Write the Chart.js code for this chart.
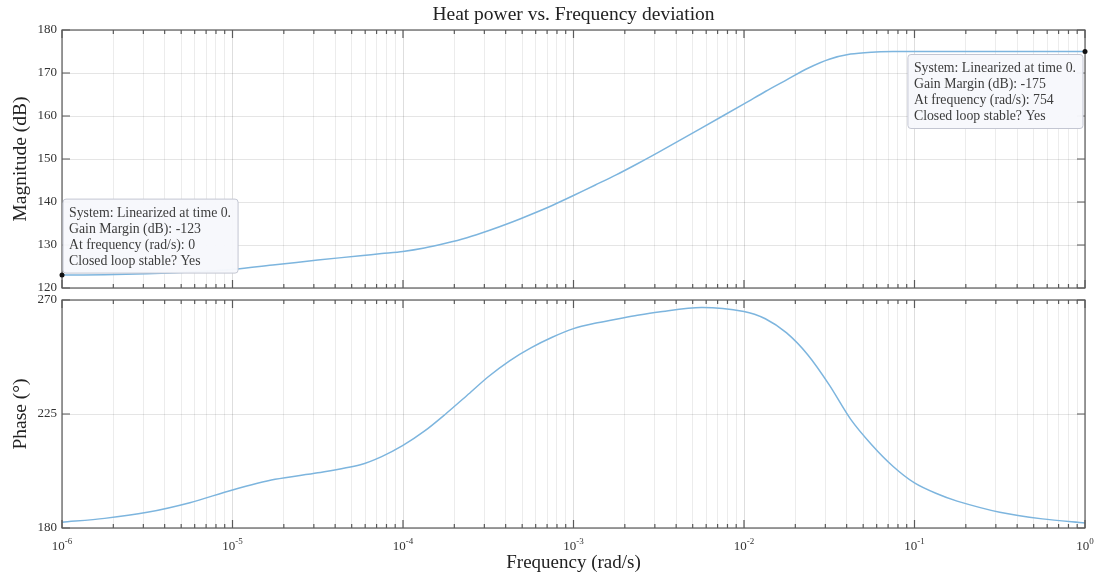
<!DOCTYPE html>
<html>
<head>
<meta charset="utf-8">
<title>Heat power vs. Frequency deviation</title>
<script src="https://cdn.jsdelivr.net/npm/chart.js@4.4.0/dist/chart.umd.min.js"></script>
<style>
  html, body { margin: 0; padding: 0; background: #fff; }
  #wrap { position: relative; width: 1105px; height: 580px; }
  .painel { position: absolute; left: 0; width: 1105px; }
  #painelMag { top: 0; height: 300px; }
  #painelFase { top: 290px; height: 290px; }
</style>
</head>
<body>
<div id="wrap">
  <div class="painel" id="painelMag"><canvas id="graficoMag"></canvas></div>
  <div class="painel" id="painelFase"><canvas id="graficoFase"></canvas></div>
</div>
<script>
// Frequências (rad/s) da resposta em frequência
const frequencias = [
  1e-6, 1.778e-6, 3.162e-6, 5.623e-6,
  1e-5, 1.778e-5, 3.162e-5, 5.623e-5, 7.499e-5,
  1e-4, 1.334e-4, 1.778e-4, 2.371e-4, 3.162e-4, 4.217e-4, 5.623e-4, 7.499e-4,
  1e-3, 1.334e-3, 1.778e-3, 2.371e-3, 3.162e-3, 5.623e-3,
  1e-2, 1.334e-2, 1.778e-2, 2.371e-2, 3.162e-2, 4.217e-2, 5.623e-2, 7.499e-2,
  0.1, 0.1334, 0.1778, 0.3162, 0.5623, 1
];

// Magnitude (dB)
const magnitude = [
  123.0, 123.1, 123.3, 123.7,
  124.3, 125.4, 126.5, 127.5, 128.0,
  128.5, 129.3, 130.4, 131.7, 133.3, 135.1, 137.1, 139.2,
  141.5, 143.9, 146.3, 148.9, 151.6, 157.2,
  162.8, 165.7, 168.4, 171.1, 173.2, 174.4, 174.85, 175.0,
  175.0, 175.0, 175.0, 175.0, 175.0, 175.0
];

// Fase (graus)
const fase = [
  182.3, 183.8, 186.2, 190.0,
  195.0, 199.2, 201.8, 205.0, 208.2,
  212.6, 218.2, 225.0, 232.3, 239.7, 246.0, 251.1, 255.3,
  258.7, 260.8, 262.4, 264.0, 265.3, 267.0,
  265.5, 262.6, 257.0, 248.3, 236.5, 223.0, 212.8, 204.3,
  197.8, 193.7, 190.6, 186.2, 183.6, 182.0
];

// Eixos
const decadas = [1e-6, 1e-5, 1e-4, 1e-3, 1e-2, 1e-1, 1];
const expoentes = ['-6', '-5', '-4', '-3', '-2', '-1', '0'];
const ticksMag = [120, 130, 140, 150, 160, 170, 180];
const ticksFase = [180, 225, 270];

// Pontos de margem de ganho
const margemFreq = [1e-6, 1];
const margemMag = [123, 175];

const dicaBaixa = ['System: Linearized at time 0.', 'Gain Margin (dB): -123', 'At frequency (rad/s): 0', 'Closed loop stable? Yes'];
const dicaAlta = ['System: Linearized at time 0.', 'Gain Margin (dB): -175', 'At frequency (rad/s): 754', 'Closed loop stable? Yes'];

const titulo = 'Heat power vs. Frequency deviation';

const FONTE = "'Liberation Serif', 'DejaVu Serif', serif";
Chart.defaults.font.family = FONTE;
Chart.defaults.color = '#333';

// Ticks de 1..9 em cada década (as décadas marcadas como major)
function ticksLog(scale) {
  const lista = [];
  decadas.forEach((d, i) => {
    lista.push({ value: d, major: true });
    if (i < decadas.length - 1) {
      for (let m = 2; m <= 9; m++) lista.push({ value: m * d, major: false });
    }
  });
  scale.ticks = lista;
}

// Moldura da área + marcas de tick para dentro (estilo MATLAB)
const molduraPlugin = {
  id: 'moldura',
  afterDatasetsDraw(chart) {
    const { ctx, chartArea: a, scales: { x, y } } = chart;
    ctx.save();
    ctx.strokeStyle = '#5a5a5a';
    ctx.lineWidth = 1.2;
    ctx.beginPath();
    x.ticks.forEach(t => {
      const px = x.getPixelForValue(t.value);
      const len = t.major ? 8 : 4;
      ctx.moveTo(px, a.top); ctx.lineTo(px, a.top + len);
      ctx.moveTo(px, a.bottom); ctx.lineTo(px, a.bottom - len);
    });
    y.ticks.forEach(t => {
      const py = y.getPixelForValue(t.value);
      ctx.moveTo(a.left, py); ctx.lineTo(a.left + 8, py);
      ctx.moveTo(a.right, py); ctx.lineTo(a.right - 8, py);
    });
    ctx.stroke();
    ctx.strokeRect(a.left, a.top, a.right - a.left, a.bottom - a.top);
    ctx.restore();
  }
};

// Título centrado sobre a área do gráfico
const tituloPlugin = {
  id: 'tituloEixos',
  afterDraw(chart) {
    const { ctx, chartArea: a } = chart;
    ctx.save();
    ctx.font = '19.5px ' + FONTE;
    ctx.fillStyle = '#222';
    ctx.textAlign = 'center';
    ctx.textBaseline = 'middle';
    ctx.fillText(titulo, (a.left + a.right) / 2, 15);
    ctx.restore();
  }
};

// Rótulos 10^n no eixo x
const rotulosXPlugin = {
  id: 'rotulosX',
  afterDraw(chart) {
    const { ctx, chartArea: a, scales: { x } } = chart;
    ctx.save();
    ctx.fillStyle = '#333';
    ctx.textBaseline = 'alphabetic';
    decadas.forEach((d, i) => {
      const px = x.getPixelForValue(d);
      ctx.font = '13px ' + FONTE;
      const wBase = ctx.measureText('10').width;
      ctx.font = '9px ' + FONTE;
      const wExp = ctx.measureText(expoentes[i]).width;
      const x0 = px - (wBase + wExp) / 2;
      const yb = a.bottom + 22;
      ctx.font = '13px ' + FONTE;
      ctx.fillText('10', x0, yb);
      ctx.font = '9px ' + FONTE;
      ctx.fillText(expoentes[i], x0 + wBase, yb - 6);
    });
    ctx.restore();
  }
};

// Caixas de dados (data tips) nos pontos de margem
const FONTE_DICA = '13.8px ' + FONTE;

function larguraDica(ctx, linhas) {
  ctx.font = FONTE_DICA;
  return Math.max(...linhas.map(l => ctx.measureText(l).width)) + 13;
}

function desenhaDica(ctx, linhas, esq, topo) {
  const larg = larguraDica(ctx, linhas);
  const alt = 74;
  ctx.beginPath();
  ctx.roundRect(esq, topo, larg, alt, 3);
  ctx.fillStyle = 'rgba(247, 248, 252, 0.97)';
  ctx.fill();
  ctx.strokeStyle = '#c3c6d2';
  ctx.lineWidth = 1;
  ctx.stroke();
  ctx.fillStyle = '#3c3c3c';
  ctx.font = FONTE_DICA;
  ctx.textBaseline = 'middle';
  linhas.forEach((l, i) => ctx.fillText(l, esq + 6, topo + 14 + i * 16));
}

const dicasPlugin = {
  id: 'dicas',
  afterDraw(chart) {
    const { ctx, scales: { x, y } } = chart;
    ctx.save();
    const x1 = x.getPixelForValue(margemFreq[0]);
    const y1 = y.getPixelForValue(margemMag[0]);
    desenhaDica(ctx, dicaBaixa, x1 + 1, y1 - 76);
    const x2 = x.getPixelForValue(margemFreq[1]);
    const y2 = y.getPixelForValue(margemMag[1]);
    desenhaDica(ctx, dicaAlta, x2 - 2 - larguraDica(ctx, dicaAlta), y2 + 3);
    // marcadores
    ctx.fillStyle = '#111';
    [[x1, y1], [x2, y2]].forEach(([px, py]) => {
      ctx.beginPath();
      ctx.arc(px, py, 2.5, 0, Math.PI * 2);
      ctx.fill();
    });
    ctx.restore();
  }
};

function eixoX(opcoes) {
  return Object.assign({
    type: 'logarithmic',
    min: 1e-6,
    max: 1,
    afterBuildTicks: ticksLog,
    ticks: { display: false, autoSkip: false },
    border: { display: false },
    grid: {
      drawTicks: false,
      color: c => (c.tick && c.tick.major) ? 'rgba(0,0,0,0.13)' : 'rgba(0,0,0,0.075)',
      lineWidth: 1
    }
  }, opcoes);
}

function eixoY(ticks, tituloEixo) {
  return {
    min: ticks[0],
    max: ticks[ticks.length - 1],
    afterBuildTicks: s => { s.ticks = ticks.map(v => ({ value: v })); },
    afterFit: s => { s.width = 62; s.paddingTop = 0; s.paddingBottom = 0; },
    border: { display: false },
    grid: { drawTicks: false, color: 'rgba(0,0,0,0.1)' },
    ticks: { padding: 5, font: { size: 13 }, color: '#333' },
    title: {
      display: true,
      text: tituloEixo,
      font: { size: 19.5 },
      color: '#222',
      padding: { top: 9, bottom: 0 }
    }
  };
}

function serie(valores) {
  return {
    data: frequencias.map((f, i) => ({ x: f, y: valores[i] })),
    borderColor: '#7db5de',
    borderWidth: 1.5,
    pointRadius: 0,
    tension: 0.3,
    fill: false
  };
}

// Gráfico de magnitude
const graficoMag = new Chart(document.getElementById('graficoMag').getContext('2d'), {
  type: 'line',
  data: { datasets: [serie(magnitude)] },
  options: {
    responsive: true,
    maintainAspectRatio: false,
    animation: false,
    layout: { padding: { left: 0, right: 20, top: 30, bottom: 0 } },
    scales: {
      x: eixoX({ afterFit: s => { s.height = 12; } }),
      y: eixoY(ticksMag, 'Magnitude (dB)')
    },
    plugins: {
      legend: { display: false },
      tooltip: { enabled: false }
    }
  },
  plugins: [molduraPlugin, tituloPlugin, dicasPlugin]
});

// Gráfico de fase
const graficoFase = new Chart(document.getElementById('graficoFase').getContext('2d'), {
  type: 'line',
  data: { datasets: [serie(fase)] },
  options: {
    responsive: true,
    maintainAspectRatio: false,
    animation: false,
    layout: { padding: { left: 0, right: 20, top: 10, bottom: 0 } },
    scales: {
      x: eixoX({
        afterFit: s => { s.height = 52; },
        title: {
          display: true,
          text: 'Frequency (rad/s)',
          font: { size: 19 },
          color: '#222',
          padding: { top: 0, bottom: 6 }
        }
      }),
      y: eixoY(ticksFase, 'Phase (°)')
    },
    plugins: {
      legend: { display: false },
      tooltip: { enabled: false }
    }
  },
  plugins: [molduraPlugin, rotulosXPlugin]
});
</script>
</body>
</html>
